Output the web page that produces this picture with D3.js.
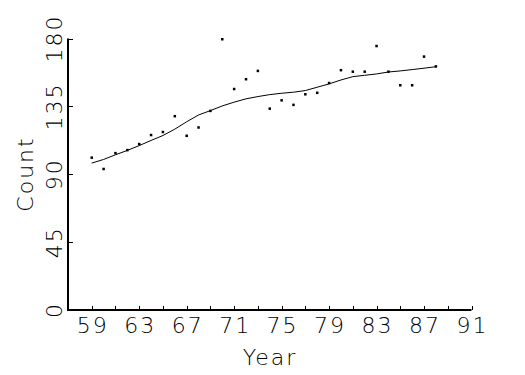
<!DOCTYPE html>
<html>
<head>
<meta charset="utf-8">
<script src="https://cdn.jsdelivr.net/npm/d3@7"></script>
<style>
  body { margin:0; background:#fff; }
  svg text { font-family:"DejaVu Sans", sans-serif; font-weight:200; fill:#000; }
</style>
</head>
<body>
<svg id="chart" width="525" height="375"></svg>
<script>
// observed counts per year
const years = [59,60,61,62,63,64,65,66,67,68,69,70,71,72,73,74,75,76,77,78,79,80,81,82,83,84,85,86,87,88];
const counts = [101,93.5,104,106,110,116,118,128.5,115.5,121,132,179.5,146.5,153,158.5,133.5,139,136,143,144,150.5,159,158,158,175,158,149,149,168,161.5];
// smoothed fit
const smooth = [97.4,99.8,102.9,105.8,109,112.4,115.7,119.9,124.8,129.3,132.2,135.3,137.8,140,141.5,142.8,143.7,144.4,145.5,147.7,149.9,152.5,154.7,155.6,156.5,157.8,158.5,159.4,160.3,161.3];

const yTicks = [0,45,90,135,180];
const xLabelTicks = [59,63,67,71,75,79,83,87,91];
const xMinorTicks = d3.range(59, 92, 2);

const svg = d3.select("#chart");
const x = d3.scaleLinear().domain([57,91]).range([68,471.5]);
const y = d3.scaleLinear().domain([0,180]).range([310,38.5]);

// axes lines
svg.append("line").attr("x1",x(57)).attr("x2",x(57)).attr("y1",y(180)).attr("y2",y(0))
  .attr("stroke","#000").attr("stroke-width",2);
svg.append("line").attr("x1",x(57)-1).attr("x2",x(91)).attr("y1",y(0)).attr("y2",y(0))
  .attr("stroke","#000").attr("stroke-width",2);

// y ticks (inward)
svg.selectAll(".yt").data(yTicks).enter().append("line")
  .attr("x1",x(57)).attr("x2",x(57)+5)
  .attr("y1",d=>Math.round(y(d))+0.5).attr("y2",d=>Math.round(y(d))+0.5)
  .attr("stroke","#000").attr("stroke-width",1);
svg.selectAll(".yl").data(yTicks).enter().append("text")
  .attr("transform",d=>`translate(62,${y(d)}) rotate(-90)`)
  .attr("text-anchor","middle")
  .style("font-size","22px").style("letter-spacing","2px")
  .text(d=>d);

// x ticks (inward)
svg.selectAll(".xt").data(xMinorTicks).enter().append("line")
  .attr("x1",d=>Math.round(x(d))+0.5).attr("x2",d=>Math.round(x(d))+0.5)
  .attr("y1",y(0)).attr("y2",y(0)-4)
  .attr("stroke","#000").attr("stroke-width",1);
svg.selectAll(".xl").data(xLabelTicks).enter().append("text")
  .attr("x",d=>x(d)+1).attr("y",333)
  .attr("text-anchor","middle")
  .style("font-size","22px").style("letter-spacing","2px")
  .text(d=>d);

// axis titles
svg.append("text").attr("x",270).attr("y",365).attr("text-anchor","middle")
  .style("font-size","22px").style("letter-spacing","2px").text("Year");
svg.append("text").attr("transform","translate(33,174) rotate(-90)").attr("text-anchor","middle")
  .style("font-size","22px").style("letter-spacing","2px").text("Count");

// smooth line
const line = d3.line().x((d,i)=>x(years[i])).y(d=>y(d));
svg.append("path").datum(smooth).attr("d",line)
  .attr("fill","none").attr("stroke","#000").attr("stroke-width",1);

// points
svg.selectAll(".pt").data(counts).enter().append("rect")
  .attr("x",(d,i)=>x(years[i])-1.25).attr("y",d=>y(d)-1.25)
  .attr("width",2.5).attr("height",2.5).attr("fill","#000");
</script>
</body>
</html>
